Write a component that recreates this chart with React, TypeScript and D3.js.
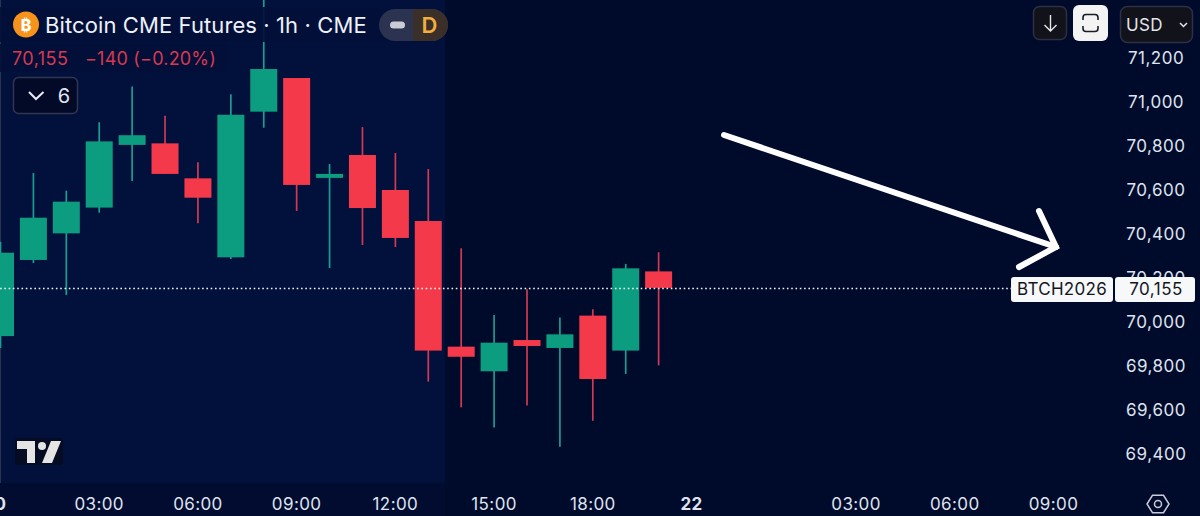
import React from "react";
import * as d3 from "d3";

const W = 1200;
const H = 516;

// hour index relative to the left edge session label
const candleHours = [0, 1, 2, 3, 4, 5, 6, 7, 8, 9, 10, 11, 12, 13, 14, 15, 16, 17, 18, 19, 20];
const opens = [69936, 70282, 70403, 70520, 70805, 70812, 70653, 70294, 70956, 71109, 70655, 70759, 70600, 70459, 69888, 69776, 69918, 69882, 70029, 69870, 70230];
const closes = [70315, 70474, 70547, 70821, 70849, 70673, 70565, 70942, 71150, 70623, 70673, 70518, 70382, 69870, 69842, 69906, 69891, 69944, 69741, 70244, 70155];
const highs = [70365, 70677, 70597, 70908, 71070, 70938, 70726, 71035, 71464, 71109, 70718, 70886, 70768, 70695, 70335, 70032, 70149, 70021, 70058, 70264, 70317];
const lows = [69882, 70268, 70123, 70497, 70641, 70673, 70449, 70286, 70883, 70505, 70245, 70350, 70341, 69729, 69612, 69521, 69621, 69433, 69551, 69764, 69803];

const priceTicks = [71200, 71000, 70800, 70600, 70400, 70200, 70000, 69800, 69600, 69400];
const timeHours = [0, 3, 6, 9, 12, 15, 18, 21, 26, 29, 32];
const timeLabels = ["0", "03:00", "06:00", "09:00", "12:00", "15:00", "18:00", "22", "03:00", "06:00", "09:00"];
const boldTimeLabels = ["0", "22"];

const arrowShaft = [[724, 135], [1056, 247]];
const arrowHead = [[1039, 211], [1056, 247], [1019, 267]];

const lastPrice = 70155;
const FONT = "Inter, 'Noto Sans', sans-serif";
const UP = "#0c9d80";
const DOWN = "#f4394a";
const UPW = "#1a9d92";
const DOWNW = "#d13a52";
const TICK = "#dfe3ee";

export default function App() {
  const y = d3.scaleLinear().domain([71200, 69400]).range([58, 454]);
  const x = d3.scaleLinear().domain([0, 32]).range([0.5, 1053.5]);
  const bw = 27;
  const priceFmt = d3.format(",");
  const line = d3.line();
  const hexPts = d3.range(6).map((i) => {
    const a = (Math.PI / 3) * i;
    return [1158 + 11 * Math.cos(a), 504 + 10 * Math.sin(a)] as [number, number];
  });

  return (
    <svg width={W} height={H} viewBox={`0 0 ${W} ${H}`} style={{ position: "absolute", left: 0, top: 0, display: "block" }} fontFamily={FONT}>
      <rect width={W} height={H} fill="#000a2b" />
      <rect x={0} width={445} height={483} fill="#02113c" />
      <rect x={0} y={483} width={445} height={33} fill="#010c30" />
      <rect x={0} width={1} height={483} fill="#2a3350" />

      <g>
        {candleHours.map((h, i) => {
          const up = closes[i] >= opens[i];
          const top = y(Math.max(opens[i], closes[i]));
          const bot = y(Math.min(opens[i], closes[i]));
          const cx = x(h);
          return (
            <g key={h}>
              <line x1={cx} x2={cx} y1={y(highs[i])} y2={y(lows[i])} stroke={up ? UPW : DOWNW} strokeWidth={1.7} />
              <rect x={cx - bw / 2} y={top} width={bw} height={Math.max(bot - top, 1)} fill={up ? UP : DOWN} />
            </g>
          );
        })}
      </g>

      <line x1={0} x2={1012} y1={y(lastPrice) + 0.6} y2={y(lastPrice) + 0.6} stroke="#f2f4f8" strokeWidth={1.6} strokeDasharray="1.6 2.7" />

      {/* legend backgrounds */}
      <rect x={0} y={7} width={425} height={35} fill="#02103a" opacity={0.92} />
      <rect x={0} y={44} width={228} height={28} fill="#02103a" opacity={0.92} />

      {/* symbol icon */}
      <circle cx={26} cy={24.5} r={13} fill="#f7931a" />
      <text x={26} y={30.5} textAnchor="middle" fontSize={16} fontWeight={800} fill="#fff">₿</text>
      <text x={45} y={33} fontSize={22} fill="#eef1f8" letterSpacing={0.1}>Bitcoin CME Futures · 1h · CME</text>

      {/* pill */}
      <rect x={379} y={9} width={69} height={32} rx={16} fill="#2b3350" />
      <path d="M413 9 H432 A16 16 0 0 1 432 41 H413 Z" fill="#3a3029" />
      <rect x={390} y={21.5} width={15} height={7} rx={3.5} fill="#c9ccd4" />
      <text x={429.5} y={33} textAnchor="middle" fontSize={22} fontWeight={600} fill="#f5ae3d">D</text>

      {/* values */}
      <text x={12} y={65} fontSize={18} fill="#d8394f" letterSpacing={0.45}>70,155</text>
      <text x={85} y={65} fontSize={18} fill="#d8394f" letterSpacing={0.2}>−140 (−0.20%)</text>

      {/* collapse button */}
      <rect x={13.5} y={77.5} width={64} height={36} rx={5} fill="#020a28" stroke="#2f3650" strokeWidth={1.5} />
      <path d={line([[29, 92], [36, 99], [43.5, 92]]) ?? ""} fill="none" stroke="#e8ebf3" strokeWidth={2} />
      <text x={64} y={103} textAnchor="middle" fontSize={20} fill="#e3e6ee">6</text>

      {/* logo */}
      <g>
        <rect x={15} y={438} width={48} height={27} rx={3} fill="#060a1a" opacity={0.75} />
        <path d="M17 441 H35 V463 H27 V449 H17 Z" fill="#e4e4e4" />
        <circle cx={42} cy={446} r={4} fill="#e4e4e4" />
        <path d="M51 441 H61 L52 463 H42 Z" fill="#e4e4e4" />
      </g>

      {/* right buttons */}
      <rect x={1033.5} y={6.5} width={33} height={33} rx={6} fill="#11121a" stroke="#2c3044" strokeWidth={1.5} />
      <path d="M1050.5 15 V31 M1044.5 25 L1050.5 31 L1056.5 25" fill="none" stroke="#e8e8ea" strokeWidth={1.4} />
      <rect x={1073} y={5} width={35} height={36} rx={6} fill="#f3f3f3" />
      <path d="M1083 20 V17.5 Q1083 14.5 1086 14.5 H1095 Q1098 14.5 1098 17.5 V20 M1083 26 V28.5 Q1083 31.5 1086 31.5 H1095 Q1098 31.5 1098 28.5 V26" fill="none" stroke="#1a1c24" strokeWidth={1.6} />
      <rect x={1120.5} y={6.5} width={72} height={36} rx={7} fill="#11121a" stroke="#2c3044" strokeWidth={1.5} />
      <text x={1126} y={31} fontSize={17} fill="#e3e4e8" letterSpacing={0.3}>USD</text>
      <path d="M1180 23 L1183.5 26.5 L1187 23" fill="none" stroke="#e3e4e8" strokeWidth={1.5} />

      {/* price axis */}
      {priceTicks.map((p) => (
        <text key={p} x={1156} y={y(p) + 6} textAnchor="middle" fontSize={17} fill={TICK} letterSpacing={0.5}>
          {priceFmt(p)}
        </text>
      ))}

      {/* time axis */}
      {timeHours.map((h, i) => (
        <text key={i} x={x(h)} y={510} textAnchor="middle" fontSize={17} letterSpacing={0.4}
          fontWeight={boldTimeLabels.includes(timeLabels[i]) ? 700 : 400} fill={TICK}>
          {timeLabels[i]}
        </text>
      ))}

      {/* settings hexagon */}
      <polygon points={hexPts.map((p) => p.join(",")).join(" ")} fill="none" stroke="#c9ccd6" strokeWidth={1.5} />
      <circle cx={1158} cy={504} r={3.5} fill="none" stroke="#c9ccd6" strokeWidth={1.5} />

      {/* last price label */}
      <rect x={1011} y={277} width={102} height={25} rx={3} fill="#f7f8fa" />
      <rect x={1115} y={277} width={80} height={25} rx={3} fill="#f7f8fa" />
      <text x={1062} y={295} textAnchor="middle" fontSize={17} fill="#14161e" letterSpacing={0.3}>BTCH2026</text>
      <text x={1156} y={295} textAnchor="middle" fontSize={17} fill="#14161e" letterSpacing={0.5}>{priceFmt(lastPrice)}</text>

      {/* arrow annotation */}
      <path d={line(arrowShaft as [number, number][]) ?? ""} stroke="#fff" strokeWidth={6} strokeLinecap="round" fill="none" />
      <path d={line(arrowHead as [number, number][]) ?? ""} stroke="#fff" strokeWidth={6} strokeLinecap="round" strokeLinejoin="miter" fill="none" />
    </svg>
  );
}
